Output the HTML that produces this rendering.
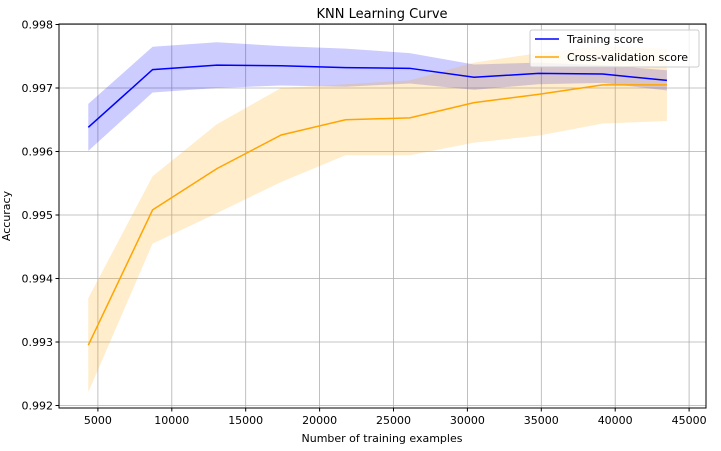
<!DOCTYPE html>
<html><head><meta charset="utf-8"><style>
body{margin:0;background:#fff;}
svg text{font-family:"DejaVu Sans","Liberation Sans",sans-serif;fill:#000;}
</style></head><body>
<svg id="chart" width="721" height="446" xmlns="http://www.w3.org/2000/svg">
<rect width="721" height="446" fill="#fff"/>
<g id="grid"></g>
<g id="bands"></g>
<g id="lines"></g>
<rect x="59" y="24" width="647" height="384" fill="none" stroke="#000" stroke-width="1"/>
<g id="axes"></g>
<text x="382" y="18" text-anchor="middle" font-size="13">KNN Learning Curve</text>
<text x="382" y="442" text-anchor="middle" font-size="11">Number of training examples</text>
<text x="10" y="216" text-anchor="middle" font-size="11" transform="rotate(-90 10 216)">Accuracy</text>
<g>
<rect x="530" y="30" width="169" height="37" rx="2" fill="#fff" fill-opacity="0.8" stroke="#ccc"/>
<g><line x1="535" y1="39" x2="559" y2="39" stroke="#0000ff" stroke-width="1.5"/><text x="567" y="43" font-size="11">Training score</text></g>
<g><line x1="535" y1="57" x2="559" y2="57" stroke="#ffa500" stroke-width="1.5"/><text x="567" y="61" font-size="11">Cross-validation score</text></g>
</g>
</svg>
<script>
const trainSizes=[4350,8700,13050,17400,21750,26100,30450,34800,39150,43500];
const trainMean=[0.99638,0.99729,0.99736,0.99735,0.99732,0.99731,0.99717,0.99723,0.99722,0.99712];
const trainStd=[0.00037,0.00036,0.00036,0.00031,0.00030,0.00024,0.00020,0.00017,0.00014,0.00016];
const cvMean=[0.99295,0.99508,0.99573,0.99626,0.99650,0.99653,0.99677,0.99690,0.99705,0.99705];
const cvStd=[0.00074,0.00053,0.00070,0.00074,0.00056,0.00059,0.00063,0.00065,0.00061,0.00057];
const xTicks=[5000,10000,15000,20000,25000,30000,35000,40000,45000];
const yTicks=[0.992,0.993,0.994,0.995,0.996,0.997,0.998];
const NS="http://www.w3.org/2000/svg";
const X=v=>24+v*(73.9/5000);
const Y=v=>24.5+(0.998-v)*63500;
function mk(tag,attrs,parent){const e=document.createElementNS(NS,tag);for(const k in attrs)e.setAttribute(k,attrs[k]);document.getElementById(parent).appendChild(e);return e;}
xTicks.forEach(t=>{
 const x=X(t);
 const g=mk('line',{x1:x,y1:24,x2:x,y2:408,stroke:'#b0b0b0','stroke-width':0.8},'grid');
 
 
 mk('line',{x1:x,y1:408,x2:x,y2:411.5,stroke:'#000'},'axes');
 const l=mk('text',{x:x,y:424,'text-anchor':'middle','font-size':11},'axes');
 l.textContent=t;
 
 
});
yTicks.forEach(t=>{
 const y=Y(t);
 const g=mk('line',{x1:59,y1:y,x2:706,y2:y,stroke:'#b0b0b0','stroke-width':0.8},'grid');
 
 
 mk('line',{x1:55.5,y1:y,x2:59,y2:y,stroke:'#000'},'axes');
 const l=mk('text',{x:53,y:y+4,'text-anchor':'end','font-size':11},'axes');
 l.textContent=t.toFixed(3);
 
 
});
function band(mean,std,color,name){
 const up=trainSizes.map((s,i)=>X(s)+','+Y(mean[i]+std[i]));
 const lo=trainSizes.map((s,i)=>X(s)+','+Y(mean[i]-std[i])).reverse();
 const p=mk('polygon',{points:up.concat(lo).join(' '),fill:color,'fill-opacity':0.2},'bands');
 
 
}
function line(mean,color,name){
 const p=mk('polyline',{points:trainSizes.map((s,i)=>X(s)+','+Y(mean[i])).join(' '),fill:'none',stroke:color,'stroke-width':1.5},'lines');
 
 
}
band(trainMean,trainStd,'#0000ff','training-std-band');
band(cvMean,cvStd,'#ffa500','cv-std-band');
line(trainMean,'#0000ff','training-score-line');
line(cvMean,'#ffa500','cv-score-line');
</script>
</body></html>
